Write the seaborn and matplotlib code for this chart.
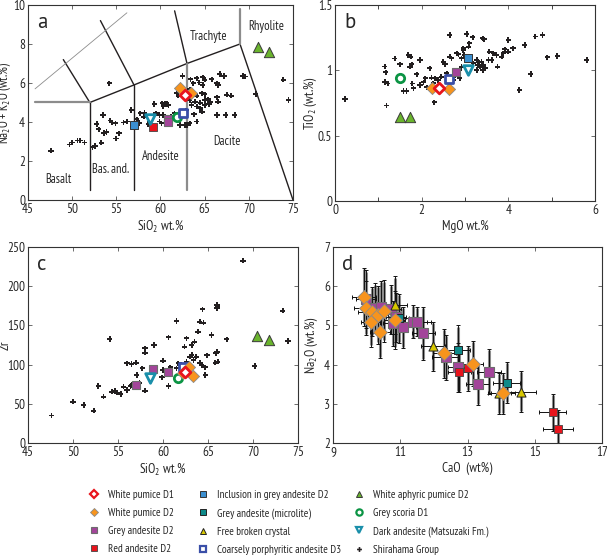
import matplotlib
matplotlib.use('Agg')
import matplotlib.pyplot as plt
from matplotlib.lines import Line2D
import seaborn as sns

sns.set_style('ticks')
plt.rcParams['font.family'] = ['PT Sans Narrow', 'DejaVu Sans']
plt.rcParams['mathtext.fontset'] = 'custom'
plt.rcParams['mathtext.rm'] = 'PT Sans Narrow'
plt.rcParams['mathtext.it'] = 'PT Sans Narrow'

# ---- panel a: TAS (SiO2, Na2O+K2O) ----
a_shirahama = [(47.6, 2.53), (49.7, 2.85), (50.0, 2.95), (50.6, 3.05), (50.9, 3.05), (51.4, 2.95),
               (52.3, 2.7), (52.6, 2.77), (53.3, 2.94), (53.6, 3.44), (53.9, 3.49), (54.96, 3.16),
               (55.3, 3.42), (52.8, 3.9), (53.0, 3.63), (53.5, 4.36), (54.3, 4.07), (54.5, 3.97),
               (54.9, 3.93), (54.2, 5.99), (55.8, 3.97), (56.2, 4.02), (56.7, 4.62), (57.3, 4.14),
               (57.7, 4.45), (58.1, 4.27), (58.2, 4.48), (59.3, 4.91), (59.5, 4.45), (59.9, 4.36),
               (60.2, 4.96), (60.7, 4.92), (60.3, 4.36), (60.1, 3.93), (59.9, 4.02), (62.5, 6.36),
               (63.4, 6.19), (64.1, 6.24), (64.8, 6.29), (65.0, 6.16), (65.8, 6.19), (66.7, 6.46),
               (67.2, 6.36), (69.3, 6.36), (63.7, 5.99), (64.4, 6.02), (64.8, 5.9), (66.4, 5.99),
               (66.5, 5.9), (61.8, 5.47), (62.0, 5.34), (63.7, 5.47), (64.1, 5.34), (64.7, 5.47),
               (65.0, 5.42), (63.3, 5.68), (63.5, 5.56), (63.3, 5.13), (63.9, 5.04), (64.5, 4.99),
               (65.0, 5.13), (65.4, 5.17), (65.6, 5.04), (66.4, 5.27), (66.5, 5.04), (67.5, 5.39),
               (68.0, 5.34), (63.5, 4.87), (64.1, 4.79), (64.7, 4.53), (64.5, 4.7), (65.0, 4.87),
               (65.5, 4.92), (60.5, 4.96), (60.9, 4.87), (60.3, 4.79), (59.3, 4.92), (67.4, 4.36),
               (68.4, 4.36), (66.4, 4.36), (64.1, 4.02), (63.0, 3.85), (62.2, 3.85), (62.8, 3.85),
               (63.3, 3.93), (73.9, 6.16), (74.5, 5.13), (70.8, 5.44), (69.6, 6.33), (61.2, 4.3),
               (61.6, 4.45), (62.9, 4.6), (63.8, 4.4), (58.6, 3.9), (57.6, 3.95)]
a_white_pumice_d1 = [(62.8, 5.39)]
a_white_pumice_d2 = [(62.2, 5.73), (63.5, 5.47)]
a_grey_andesite_d2 = [(60.9, 4.14), (60.9, 3.98)]
a_red_andesite_d2 = [(59.1, 3.76)]
a_inclusion = [(57.0, 3.85)]
a_coarsely = [(62.5, 4.45)]
a_grey_scoria = [(61.9, 4.27)]
a_dark_andesite = [(58.8, 4.14)]
a_white_aphyric = [(71.0, 7.86), (72.3, 7.6)]

# ---- panel b: MgO vs TiO2 ----
b_shirahama = [(0.23, 0.78), (1.19, 0.73), (1.15, 1.03), (1.17, 0.985), (1.15, 0.91), (1.22, 0.90),
               (1.38, 1.09), (1.5, 1.046), (1.69, 1.117), (1.75, 1.104), (1.77, 1.046), (1.73, 1.028),
               (1.96, 1.079), (1.58, 0.842), (1.65, 0.842), (1.78, 0.90), (1.81, 0.862), (1.89, 0.97),
               (1.96, 0.888), (2.04, 0.908), (2.08, 0.939), (2.19, 1.016), (2.23, 0.944), (2.31, 0.939),
               (2.27, 0.901), (2.38, 0.926), (2.29, 0.755), (2.5, 1.066), (2.54, 1.046), (2.65, 1.104),
               (2.69, 1.092), (2.85, 1.123), (2.96, 1.169), (2.92, 1.092), (2.88, 1.003), (2.92, 1.028),
               (2.77, 0.964), (2.65, 1.27), (3.04, 1.278), (3.18, 1.253), (3.41, 1.245), (3.44, 1.238),
               (4.0, 1.232), (4.62, 1.258), (4.79, 1.27), (4.38, 1.194), (4.11, 1.169), (4.0, 1.143),
               (3.92, 1.161), (3.88, 1.13), (3.85, 1.104), (3.73, 1.117), (3.65, 1.13), (3.56, 1.143),
               (2.81, 1.13), (2.96, 1.156), (3.08, 1.181), (3.1, 1.207), (2.98, 1.117), (3.27, 1.079),
               (3.33, 1.059), (3.38, 1.066), (3.42, 1.041), (3.35, 1.028), (3.46, 1.016), (3.41, 1.003),
               (3.29, 1.041), (3.19, 1.054), (3.54, 1.079), (3.62, 1.079), (3.75, 1.028), (3.27, 1.003),
               (4.9, 1.1), (5.13, 1.11), (5.81, 1.079), (4.52, 0.972), (4.25, 0.85), (2.58, 0.977),
               (2.73, 0.926), (2.88, 0.939), (1.48, 0.92), (2.12, 0.87), (2.45, 0.95)]
b_white_pumice_d1 = [(2.41, 0.862)]
b_white_pumice_d2 = [(2.25, 0.862), (2.63, 0.855)]
b_grey_andesite_d2 = [(2.79, 0.99)]
b_inclusion = [(3.08, 1.092)]
b_coarsely = [(2.64, 0.931)]
b_grey_scoria = [(1.5, 0.939)]
b_dark_andesite = [(3.08, 1.003)]
b_white_aphyric = [(1.5, 0.64), (1.72, 0.64)]

# ---- panel c: SiO2 vs Zr ----
c_shirahama = [(47.6, 35), (50.0, 52.7), (51.2, 48.5), (52.3, 41.2), (52.8, 72.7), (53.4, 59.1),
               (54.3, 65.4), (54.7, 66.7), (54.9, 64.2), (55.3, 62.5), (55.6, 71.8), (56.0, 67.6),
               (56.4, 72.7), (56.5, 74.0), (54.1, 132.7), (56.0, 101.7), (56.5, 100.8), (57.0, 102.4),
               (57.1, 86.7), (57.7, 95.3), (58.0, 120.8), (58.0, 115.2), (59.0, 125.0), (58.0, 66.7),
               (57.4, 76.9), (59.9, 83.8), (60.0, 105), (60.0, 93.1), (60.6, 134.8), (60.6, 72.7),
               (60.8, 96.6), (61.5, 155.6), (61.5, 95.3), (61.7, 101.7), (62.4, 122.8), (62.6, 133.5),
               (62.6, 103.7), (63.0, 110.1), (63.2, 112.2), (63.4, 105.9), (63.2, 125), (63.5, 129.2),
               (63.9, 142), (64.1, 154.7), (64.5, 153.4), (64.4, 170.5), (63.7, 110), (64.1, 102.4),
               (64.3, 99.5), (64.7, 96.6), (64.7, 86.7), (65.4, 137.8), (66.0, 116.5), (65.9, 114.4),
               (66.1, 103.7), (65.8, 102.4), (67.1, 132.3), (66.0, 176), (66.1, 173.9), (66.0, 172),
               (70.2, 98.2), (73.3, 168.8), (73.9, 130.1), (68.9, 232.5), (63.0, 88), (62.0, 100),
               (64.9, 112)]
c_white_pumice_d1 = [(62.4, 91)]
c_white_pumice_d2 = [(62.9, 97), (63.3, 86), (62.2, 89)]
c_grey_andesite_d2 = [(57.0, 74), (58.9, 94), (60.6, 90.5)]
c_coarsely = [(62.2, 96.6)]
c_grey_scoria = [(61.7, 83)]
c_dark_andesite = [(58.6, 83)]
c_white_aphyric = [(70.5, 136.5), (71.8, 131.4)]

# ---- panel d: CaO vs Na2O with errors (x, y, xerr, yerr) ----
d_white_pumice_d2 = [(9.92, 5.73, 0.35, 0.7), (9.97, 5.44, 0.35, 0.65), (10.15, 5.35, 0.4, 0.6),
                     (10.13, 5.09, 0.3, 0.6), (10.35, 5.27, 0.3, 0.7), (10.40, 4.84, 0.3, 0.65),
                     (10.53, 5.37, 0.35, 0.75), (10.83, 5.14, 0.3, 0.7), (12.31, 4.29, 0.35, 0.6),
                     (13.16, 4.02, 0.3, 0.55), (14.05, 3.27, 0.35, 0.5)]
d_grey_andesite_d2 = [(9.98, 5.67, 0.3, 0.7), (10.25, 5.44, 0.35, 0.6), (10.43, 5.46, 0.3, 0.65),
                      (10.73, 5.41, 0.3, 0.6), (10.78, 5.05, 0.3, 0.55), (10.87, 5.21, 0.3, 0.6),
                      (11.07, 4.95, 0.4, 0.5), (11.39, 5.09, 0.4, 0.4), (11.5, 5.1, 0.4, 0.35),
                      (11.69, 4.8, 0.35, 0.65), (12.35, 4.19, 0.4, 0.55), (12.73, 3.93, 0.3, 0.6),
                      (13.3, 3.5, 0.35, 0.5), (13.64, 3.82, 0.35, 0.55)]
d_red_andesite_d2 = [(12.76, 3.82, 0.35, 0.5), (13.01, 3.91, 0.3, 0.55), (15.53, 2.78, 0.4, 0.45),
                     (15.68, 2.37, 0.45, 0.45)]
d_microlite = [(10.97, 5.18, 0.3, 0.6), (12.73, 4.37, 0.35, 0.6), (14.16, 3.54, 0.4, 0.5)]
d_broken_crystal = [(10.84, 5.52, 0.35, 0.7), (11.98, 4.47, 0.35, 0.6), (13.95, 3.27, 0.35, 0.5),
                    (14.59, 3.31, 0.45, 0.5)]

# TAS field boundaries
tas_lines_black = [[(52, 0.5), (52, 5)], [(57, 0.5), (57, 5.9)], [(52, 5), (57, 5.9), (63, 7), (69, 8)],
                   [(52, 5), (49.0, 7.2)], [(57, 5.9), (53.2, 9.2)], [(63, 7), (61.6, 9.7)],
                   [(69, 8), (75, 0)]]
tas_lines_grey = [[(45.8, 5), (52, 5)], [(63, 0.5), (63, 7)], [(69, 8), (69, 9.8)]]
tas_thin = [(45.8, 5.7), (56.2, 9.6)]
tas_names = ['Basalt', 'Bas. and.', 'Andesite', 'Dacite', 'Trachyte', 'Rhyolite']
tas_name_xy = [(48.4, 1.05), (54.3, 1.55), (60.0, 2.25), (67.5, 3.0), (65.4, 8.4), (72.0, 8.9)]

styles = {
    'White pumice D1': dict(marker='D', color='white', edgecolor='#e8141c', linewidth=2.0, s=30),
    'White pumice D2': dict(marker='D', color='#f7941d', edgecolor='#8a8a8a', linewidth=0.6, s=38),
    'Grey andesite D2': dict(marker='s', color='#a3449a', edgecolor='#6d6d6d', linewidth=0.8, s=34),
    'Red andesite D2': dict(marker='s', color='#e8141c', edgecolor='#444444', linewidth=0.6, s=30),
    'Inclusion in grey andesite D2': dict(marker='s', color='#3b8fd0', edgecolor='#333333', linewidth=0.7, s=30),
    'Grey andesite (microlite)': dict(marker='s', color='#0e8a8a', edgecolor='#222222', linewidth=0.7, s=30),
    'Free broken crystal': dict(marker='^', color='#d8c800', edgecolor='#222222', linewidth=0.7, s=36),
    'Coarsely porphyritic andesite D3': dict(marker='s', color='white', edgecolor='#3a4fa8', linewidth=2.0, s=40),
    'White aphyric pumice D2': dict(marker='^', color='#6ab42d', edgecolor='#3a3a3a', linewidth=0.7, s=55),
    'Grey scoria D1': dict(marker='o', color='white', edgecolor='#0b9444', linewidth=2.0, s=36),
    'Dark andesite (Matsuzaki Fm.)': dict(marker='v', color='white', edgecolor='#1a8faa', linewidth=2.0, s=48),
    'Shirahama Group': dict(marker='P', color='#231f20', edgecolor='none', linewidth=0, s=14),
}
legend_cols = [['White pumice D1', 'White pumice D2', 'Grey andesite D2', 'Red andesite D2'],
               ['Inclusion in grey andesite D2', 'Grey andesite (microlite)', 'Free broken crystal',
                'Coarsely porphyritic andesite D3'],
               ['White aphyric pumice D2', 'Grey scoria D1', 'Dark andesite (Matsuzaki Fm.)',
                'Shirahama Group']]


def scatter(ax, pts, name, size_scale=1.0, z=3):
    xs, ys = zip(*[(p[0], p[1]) for p in pts])
    st = dict(styles[name])
    st['s'] = st['s'] * size_scale
    sns.scatterplot(x=list(xs), y=list(ys), ax=ax, zorder=z, legend=False, **st)


def style_axes(ax, xlim, ylim, xticks, yticks):
    ax.set_xlim(*xlim)
    ax.set_ylim(*ylim)
    ax.set_xticks(xticks)
    ax.set_yticks(yticks)
    ax.tick_params(direction='in', top=True, right=True, length=3, width=0.6,
                   labelsize=9.5, pad=2, color='#555555')
    for sp in ax.spines.values():
        sp.set_linewidth(0.8)
        sp.set_color('#333333')


fig = plt.figure(figsize=(6.07, 5.56), dpi=100)
ax_a = fig.add_axes([0.0461, 0.6403, 0.4366, 0.3507])
ax_b = fig.add_axes([0.5519, 0.6385, 0.4283, 0.3525])
ax_c = fig.add_axes([0.0461, 0.2032, 0.4448, 0.3525])
ax_d = fig.add_axes([0.5486, 0.2032, 0.4432, 0.3525])

# panel a
for seg in tas_lines_black:
    xs, ys = zip(*seg)
    ax_a.plot(xs, ys, color='#231f20', lw=1.0, zorder=1)
for seg in tas_lines_grey:
    xs, ys = zip(*seg)
    ax_a.plot(xs, ys, color='#8c8c8c', lw=1.6, zorder=1)
ax_a.plot(*zip(*tas_thin), color='#8c8c8c', lw=0.6, zorder=1)
for name, (tx, ty) in zip(tas_names, tas_name_xy):
    ax_a.text(tx, ty, name, ha='center', va='center', fontsize=9)
scatter(ax_a, a_shirahama, 'Shirahama Group', z=2)
scatter(ax_a, a_inclusion, 'Inclusion in grey andesite D2')
scatter(ax_a, a_red_andesite_d2, 'Red andesite D2')
scatter(ax_a, a_grey_andesite_d2, 'Grey andesite D2')
scatter(ax_a, a_dark_andesite, 'Dark andesite (Matsuzaki Fm.)')
scatter(ax_a, a_grey_scoria, 'Grey scoria D1')
scatter(ax_a, a_coarsely, 'Coarsely porphyritic andesite D3')
scatter(ax_a, a_white_pumice_d2, 'White pumice D2')
scatter(ax_a, a_white_pumice_d1, 'White pumice D1')
scatter(ax_a, a_white_aphyric, 'White aphyric pumice D2')
style_axes(ax_a, (45, 75), (0, 10), range(45, 80, 5), range(0, 12, 2))
ax_a.set_xlabel('SiO$_2$ wt.%', fontsize=9.5, labelpad=2)
ax_a.set_ylabel('Na$_2$O + K$_2$O (wt.%)', fontsize=9)
ax_a.yaxis.set_label_coords(-0.056, 0.5)

# panel b
scatter(ax_b, b_shirahama, 'Shirahama Group', z=2)
scatter(ax_b, b_white_aphyric, 'White aphyric pumice D2')
scatter(ax_b, b_grey_scoria, 'Grey scoria D1')
scatter(ax_b, b_white_pumice_d2, 'White pumice D2')
scatter(ax_b, b_white_pumice_d1, 'White pumice D1')
scatter(ax_b, b_coarsely, 'Coarsely porphyritic andesite D3')
scatter(ax_b, b_grey_andesite_d2, 'Grey andesite D2')
scatter(ax_b, b_inclusion, 'Inclusion in grey andesite D2')
scatter(ax_b, b_dark_andesite, 'Dark andesite (Matsuzaki Fm.)')
style_axes(ax_b, (0, 6), (0, 1.5), [0, 2, 4, 6], [0, 0.5, 1, 1.5])
ax_b.set_xticks([1, 3, 5], minor=True)
ax_b.tick_params(which='minor', direction='in', top=True, length=3, width=0.6)
ax_b.set_yticklabels(['0', '0.5', '1', '1.5'])
ax_b.set_xlabel('MgO wt.%', fontsize=9.5, labelpad=2)
ax_b.set_ylabel('TiO$_2$ (wt.%)', fontsize=9.5)
ax_b.yaxis.set_label_coords(-0.06, 0.5)

# panel c
scatter(ax_c, c_shirahama, 'Shirahama Group', z=2)
scatter(ax_c, c_grey_andesite_d2, 'Grey andesite D2')
scatter(ax_c, c_dark_andesite, 'Dark andesite (Matsuzaki Fm.)')
scatter(ax_c, c_grey_scoria, 'Grey scoria D1')
scatter(ax_c, c_coarsely, 'Coarsely porphyritic andesite D3')
scatter(ax_c, c_white_pumice_d2, 'White pumice D2')
scatter(ax_c, c_white_pumice_d1, 'White pumice D1')
scatter(ax_c, c_white_aphyric, 'White aphyric pumice D2')
style_axes(ax_c, (45, 75), (0, 250), range(45, 80, 5), range(0, 300, 50))
ax_c.set_xlabel('SiO$_2$ wt.%', fontsize=9.5, labelpad=2)
ax_c.set_ylabel('Zr', fontsize=9.5)
ax_c.yaxis.set_label_coords(-0.062, 0.5)

# panel d
for grp in [d_white_pumice_d2, d_grey_andesite_d2, d_red_andesite_d2, d_microlite, d_broken_crystal]:
    xs, ys, xe, ye = zip(*grp)
    ax_d.errorbar(xs, ys, yerr=ye, fmt='none', ecolor='#8c8c8c', elinewidth=2.2, zorder=1)
    ax_d.errorbar(xs, ys, xerr=xe, yerr=[e * 1.05 for e in ye], fmt='none', ecolor='#111111',
                  elinewidth=0.7, capsize=1.5, capthick=0.7, zorder=2)
scatter(ax_d, d_grey_andesite_d2, 'Grey andesite D2', 1.35)
scatter(ax_d, d_microlite, 'Grey andesite (microlite)', 1.35)
scatter(ax_d, d_red_andesite_d2, 'Red andesite D2', 1.35)
scatter(ax_d, d_broken_crystal, 'Free broken crystal', 1.2)
scatter(ax_d, d_white_pumice_d2, 'White pumice D2', 1.35)
style_axes(ax_d, (9, 17), (2, 7), [9, 11, 13, 15, 17], range(2, 8))
ax_d.set_xlabel('CaO  (wt%)', fontsize=9.5, labelpad=2)
ax_d.set_ylabel('Na$_2$O (wt.%)', fontsize=9.5)
ax_d.yaxis.set_label_coords(-0.05, 0.5)

for ax, letter in zip([ax_a, ax_b, ax_c, ax_d], 'abcd'):
    ax.text(0.035, 0.96, letter, transform=ax.transAxes, fontsize=15, ha='left', va='top',
            family=['PT Sans', 'DejaVu Sans'])

col_x = [0.145, 0.3245, 0.5815]
for names, x0 in zip(legend_cols, col_x):
    handles = []
    for name in names:
        st = styles[name]
        handles.append(Line2D([], [], linestyle='none', marker=st['marker'],
                              markerfacecolor=st['color'], markeredgecolor=st['edgecolor'],
                              markeredgewidth=min(st['linewidth'], 1.6),
                              markersize=4.5 if name != 'Shirahama Group' else 3.5,
                              label=name))
    fig.legend(handles=handles, loc='upper left', bbox_to_anchor=(x0, 0.119),
               frameon=False, fontsize=8, handlelength=1.0, handletextpad=0.8,
               labelspacing=0.72, borderpad=0, borderaxespad=0)

fig.savefig('out.png', dpi=100)
